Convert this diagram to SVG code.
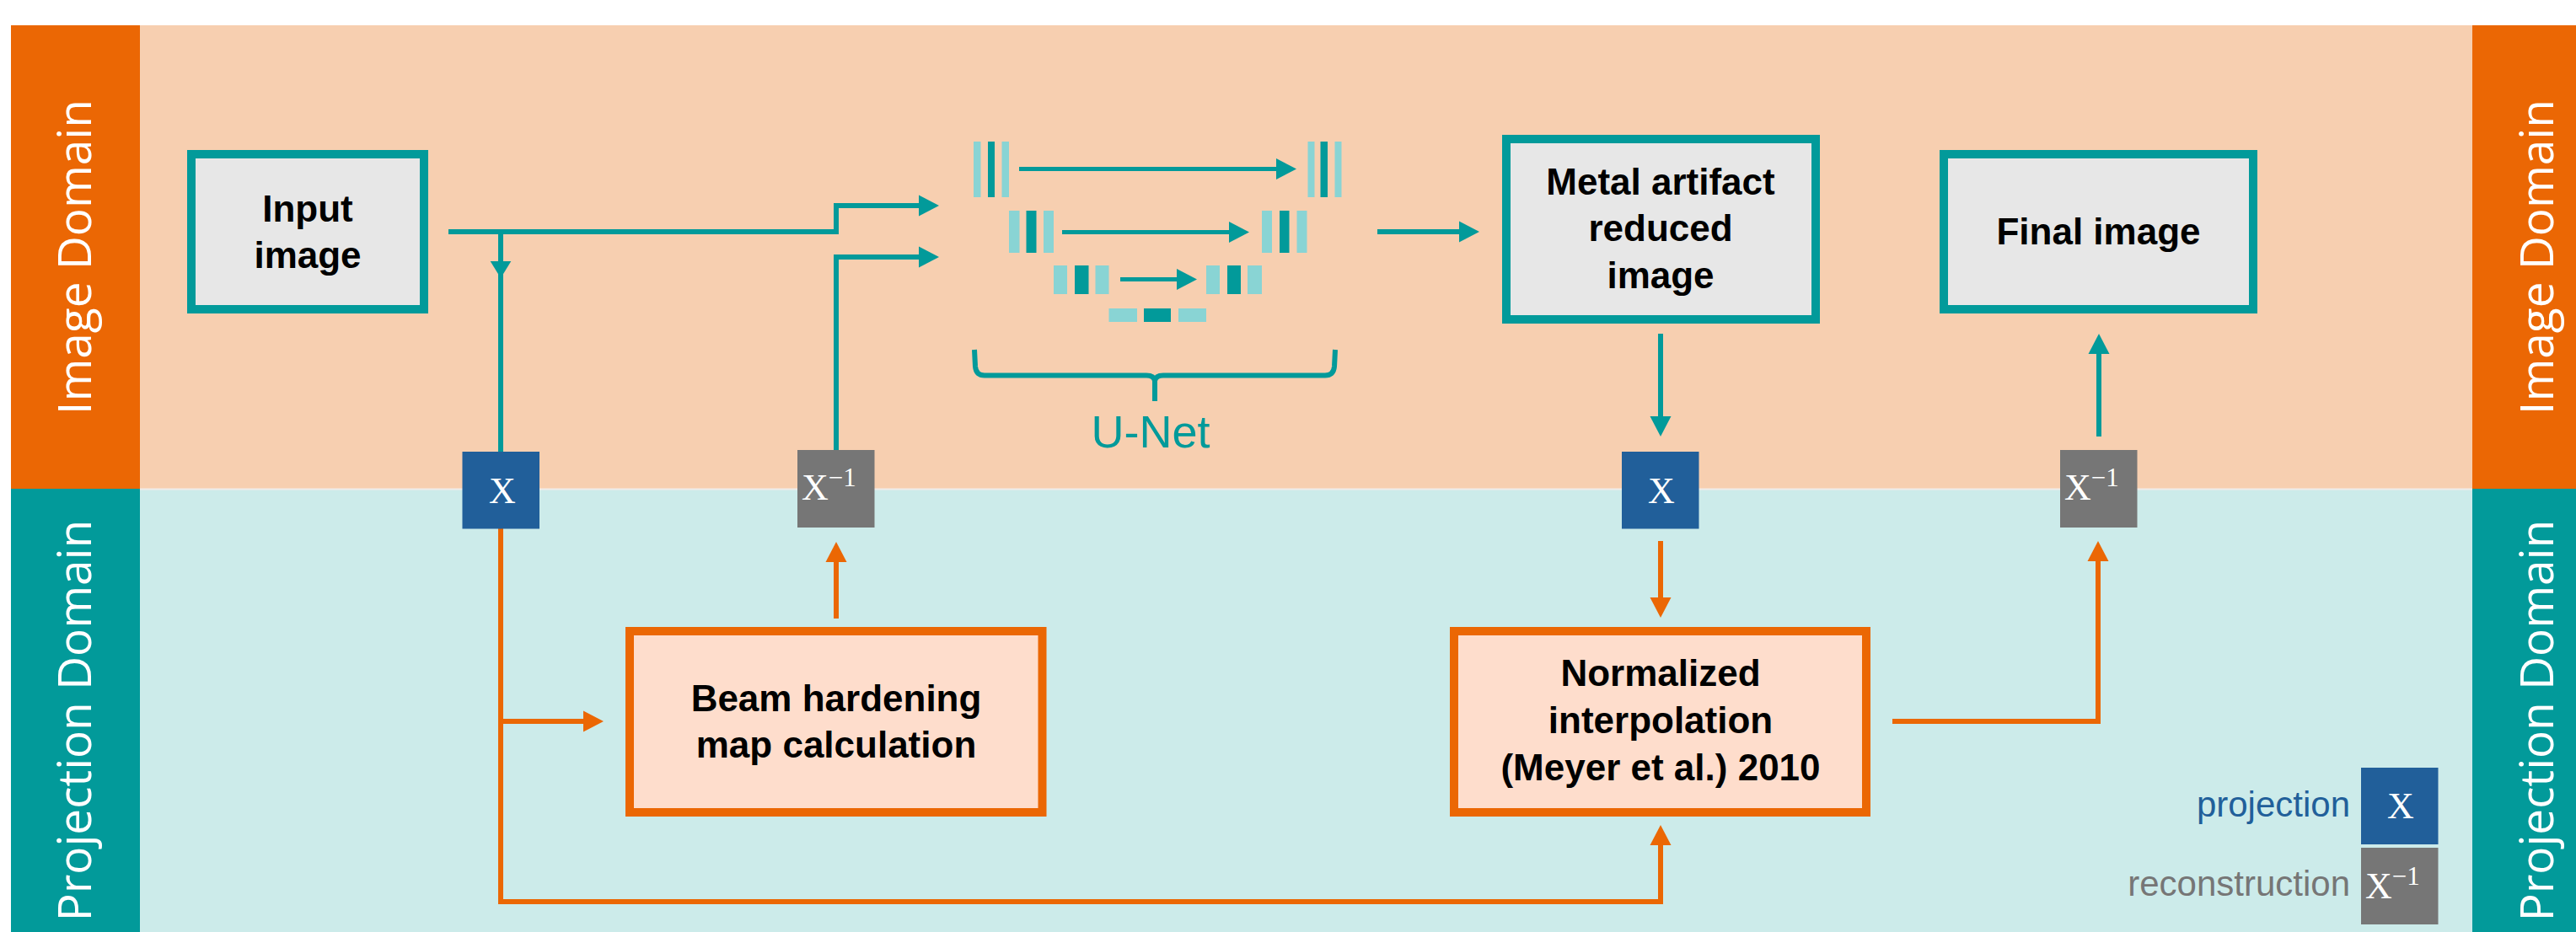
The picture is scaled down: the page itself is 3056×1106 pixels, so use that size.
<svg xmlns="http://www.w3.org/2000/svg" width="3056" height="1106" viewBox="0 0 3056 1106">
<style>
.lbl{font-family:"Liberation Sans",Arial,sans-serif;font-weight:bold;font-size:44px;fill:#000;text-anchor:middle}
.dom{font-family:"Open Sans","DejaVu Sans",sans-serif;font-weight:400;font-size:55px;fill:#fff;text-anchor:middle}
.imgbox{fill:#E7E7E7;stroke:#029A9A;stroke-width:10}
.prjbox{fill:#FEDDCC;stroke:#EB6704;stroke-width:10}
.tc{fill:none;stroke:#029A9A;stroke-width:6}
.oc{fill:none;stroke:#EB6704;stroke-width:6}
.ua{fill:none;stroke:#029A9A;stroke-width:5}
.lt{fill:#89D4D4}
.dk{fill:#029A9A}
.op{font-family:"Liberation Serif","Times New Roman",serif;font-size:44px;fill:#fff}
.sup{font-size:31px}
.leg{font-family:"Liberation Sans",Arial,sans-serif;font-size:42px;text-anchor:end}
</style>
<defs>
<marker id="mt" markerUnits="userSpaceOnUse" markerWidth="26" markerHeight="26" viewBox="0 0 26 26" refX="12" refY="13" orient="auto"><path d="M0,0.5 L24,13 L0,25.5 Z" fill="#029A9A"/></marker>
<marker id="mo" markerUnits="userSpaceOnUse" markerWidth="26" markerHeight="26" viewBox="0 0 26 26" refX="12" refY="13" orient="auto"><path d="M0,0.5 L24,13 L0,25.5 Z" fill="#EB6704"/></marker>
</defs>
<rect width="3056" height="1106" fill="#fff"/>
<g id="background">
<rect x="166" y="30" width="2767" height="550" fill="#F7CFB0"/>
<rect x="166" y="580" width="2767" height="526" fill="#CCEBEA"/>
<line x1="166" y1="580.5" x2="2933" y2="580.5" stroke="#F1ECE8" stroke-width="2"/>
<rect x="13" y="30" width="153" height="550" fill="#EB6704"/>
<rect x="13" y="580" width="153" height="526" fill="#029A9A"/>
<rect x="2933" y="30" width="123" height="550" fill="#EB6704"/>
<rect x="2933" y="580" width="123" height="526" fill="#029A9A"/>
<text class="dom" transform="translate(108,305) rotate(-90)">Image Domain</text>
<text class="dom" transform="translate(108,855) rotate(-90)">Projection Domain</text>
<text class="dom" transform="translate(3029,305) rotate(-90)">Image Domain</text>
<text class="dom" transform="translate(3029,855) rotate(-90)">Projection Domain</text>
</g>
<g id="connectors">
<path class="tc" d="M532,275 H992 V244 H1102" marker-end="url(#mt)"/>
<path class="tc" d="M594,275 V536"/>
<polygon points="581.7,310 606.3,310 594,330" fill="#029A9A"/>
<path class="tc" d="M992,534 V305 H1102" marker-end="url(#mt)"/>
<path class="tc" d="M1634,275 H1743" marker-end="url(#mt)"/>
<path class="tc" d="M1970,396 V506" marker-end="url(#mt)"/>
<path class="tc" d="M2490,518 V408" marker-end="url(#mt)"/>
<path class="oc" d="M594,627 V1070 H1970 V991" marker-end="url(#mo)"/>
<path class="oc" d="M594,856 H704" marker-end="url(#mo)"/>
<path class="oc" d="M992,734 V655" marker-end="url(#mo)"/>
<path class="oc" d="M1970,642 V721" marker-end="url(#mo)"/>
<path class="oc" d="M2245,856 H2489 V654" marker-end="url(#mo)"/>
</g>
<g id="input-image">
<rect class="imgbox" x="227" y="183" width="276" height="184"/>
<text class="lbl" x="365" y="263">Input</text>
<text class="lbl" x="365" y="318">image</text>
</g>
<g id="unet">
<rect class="lt" x="1155" y="168" width="8.5" height="66"/>
<rect class="dk" x="1172" y="168" width="8" height="66"/>
<rect class="lt" x="1188.5" y="168" width="8.5" height="66"/>
<path class="ua" d="M1209,200.5 H1526" marker-end="url(#mt)"/>
<rect class="lt" x="1551.5" y="168" width="8" height="66"/>
<rect class="dk" x="1566.5" y="168" width="8.5" height="66"/>
<rect class="lt" x="1583.5" y="168" width="8" height="66"/>
<rect class="lt" x="1197" y="250" width="12.5" height="50"/>
<rect class="dk" x="1217.5" y="250" width="12" height="50"/>
<rect class="lt" x="1238" y="250" width="12" height="50"/>
<path class="ua" d="M1260,275.5 H1470" marker-end="url(#mt)"/>
<rect class="lt" x="1497" y="250" width="12" height="50"/>
<rect class="dk" x="1518" y="250" width="11.5" height="50"/>
<rect class="lt" x="1538.5" y="250" width="12" height="50"/>
<rect class="lt" x="1250" y="315" width="16" height="34"/>
<rect class="dk" x="1275" y="315" width="16.5" height="34"/>
<rect class="lt" x="1299.5" y="315" width="16" height="34"/>
<path class="ua" d="M1329,331.5 H1408" marker-end="url(#mt)"/>
<rect class="lt" x="1431" y="315" width="16" height="34"/>
<rect class="dk" x="1456" y="315" width="16" height="34"/>
<rect class="lt" x="1480" y="315" width="17" height="34"/>
<rect class="lt" x="1315.5" y="366" width="33.5" height="16"/>
<rect class="dk" x="1357" y="366" width="32" height="16"/>
<rect class="lt" x="1398" y="366" width="33" height="16"/>
<path d="M1156,415 L1157,435 Q1158,445.5 1168,445.5 L1360,445.5 Q1369,445.5 1370,452 L1370,476 M1370,452 Q1371,445.5 1380,445.5 L1572,445.5 Q1582,445.5 1583,435 L1584,415" fill="none" stroke="#029A9A" stroke-width="6" stroke-linejoin="round"/>
<text x="1365" y="531" font-family="'Liberation Sans',Arial,sans-serif" font-size="54" fill="#029A9A" text-anchor="middle">U-Net</text>
</g>
<g id="metal-artifact-reduced-image">
<rect class="imgbox" x="1787" y="165" width="367" height="214"/>
<text class="lbl" x="1970" y="231">Metal artifact</text>
<text class="lbl" x="1970" y="286">reduced</text>
<text class="lbl" x="1970" y="342">image</text>
</g>
<g id="final-image">
<rect class="imgbox" x="2306" y="183" width="367" height="184"/>
<text class="lbl" x="2489.5" y="290">Final image</text>
</g>
<g id="projection-1">
<rect x="548.5" y="536" width="91.5" height="91.5" fill="#215F9A"/>
<text class="op" x="596" y="597" text-anchor="middle">X</text>
</g>
<g id="reconstruction-1">
<rect x="946" y="534" width="91.5" height="92" fill="#767676"/>
<text class="op" x="951" y="593">X<tspan class="sup" dy="-16">−1</tspan></text>
</g>
<g id="projection-2">
<rect x="1924" y="536" width="91.5" height="91.5" fill="#215F9A"/>
<text class="op" x="1971" y="597" text-anchor="middle">X</text>
</g>
<g id="reconstruction-2">
<rect x="2444" y="534" width="91.5" height="92" fill="#767676"/>
<text class="op" x="2449" y="593">X<tspan class="sup" dy="-16">−1</tspan></text>
</g>
<g id="beam-hardening">
<rect class="prjbox" x="747" y="749" width="489.5" height="215"/>
<text class="lbl" x="992" y="844">Beam hardening</text>
<text class="lbl" x="992" y="899">map calculation</text>
</g>
<g id="normalized-interpolation">
<rect class="prjbox" x="1725" y="749" width="489" height="215"/>
<text class="lbl" x="1970" y="814">Normalized</text>
<text class="lbl" x="1970" y="870">interpolation</text>
<text class="lbl" x="1970" y="926">(Meyer et al.) 2010</text>
</g>
<g id="legend">
<text class="leg" x="2788" y="969" fill="#215F9A">projection</text>
<rect x="2801" y="911" width="91.5" height="91" fill="#215F9A"/>
<text class="op" x="2848" y="971" text-anchor="middle">X</text>
<text class="leg" x="2788" y="1063" fill="#767676">reconstruction</text>
<rect x="2801" y="1006" width="91.5" height="91" fill="#767676"/>
<text class="op" x="2806" y="1066">X<tspan class="sup" dy="-16">−1</tspan></text>
</g>
</svg>
